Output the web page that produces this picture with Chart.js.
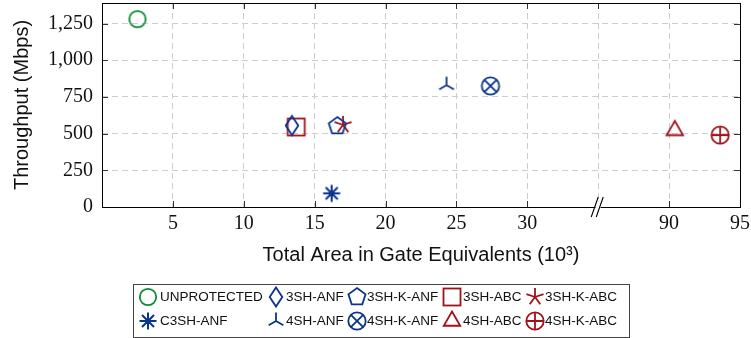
<!DOCTYPE html>
<html>
<head>
<meta charset="utf-8">
<script src="https://cdn.jsdelivr.net/npm/chart.js@4.4.1/dist/chart.umd.min.js"></script>
<style>
  html, body { margin: 0; padding: 0; background: #fff; }
  #wrap { position: relative; width: 751px; height: 338px; }
  #legend {
    position: absolute; left: 133px; top: 284px; width: 497px; height: 54px;
    border: 1px solid #444; box-sizing: border-box;
  }
  .lg-mark { position: absolute; }
  .lg-text {
    position: absolute; font-family: "Liberation Sans", Arial, sans-serif;
    font-size: 13.5px; line-height: 16px; color: #111; white-space: nowrap;
  }
</style>
</head>
<body>
<div id="wrap">
  <canvas id="chart" width="751" height="338"></canvas>
  <div id="legend"></div>
</div>
<script>
// data
const seriesNames = ['UNPROTECTED', '3SH-ANF', '3SH-K-ANF', '3SH-ABC', '3SH-K-ABC',
                     'C3SH-ANF', '4SH-ANF', '4SH-K-ANF', '4SH-ABC', '4SH-K-ABC'];
const areaKGE = [2.5, 13.4, 16.6, 13.7, 17.0, 16.2, 24.3, 27.4, 90.4, 93.6];
const throughputMbps = [1280, 555, 552, 545, 560, 93, 830, 825, 522, 490];
const markerShapes = ['circle', 'diamond', 'pentagon', 'square', 'star',
                      'asterisk', 'tri', 'otimes', 'triangle', 'oplus'];

const GREEN = '#0c8a32', BLUE = '#0a358c', RED = '#a0121a';
const markerColors = [GREEN, BLUE, BLUE, RED, RED, BLUE, BLUE, BLUE, RED, RED];

// broken x axis: 35..85 is cut out
const BREAK_FROM = 35, BREAK_TO = 85;
const toAxis = v => v > BREAK_FROM ? v - (BREAK_TO - BREAK_FROM) : v;
const fromAxis = v => v > BREAK_FROM ? v + (BREAK_TO - BREAK_FROM) : v;

function makeMarker(shape, color) {
  const c = document.createElement('canvas');
  c.width = 24; c.height = 24;
  const g = c.getContext('2d');
  g.strokeStyle = color;
  g.lineWidth = 1.8;
  g.lineJoin = 'miter';
  g.translate(12, 12);
  const poly = (n, r, rot) => {
    g.beginPath();
    for (let k = 0; k < n; k++) {
      const a = rot + k * 2 * Math.PI / n;
      k ? g.lineTo(r * Math.cos(a), r * Math.sin(a)) : g.moveTo(r * Math.cos(a), r * Math.sin(a));
    }
    g.closePath(); g.stroke();
  };
  const spokes = (n, r, rot) => {
    g.beginPath();
    for (let k = 0; k < n; k++) {
      const a = rot + k * 2 * Math.PI / n;
      g.moveTo(0, 0); g.lineTo(r * Math.cos(a), r * Math.sin(a));
    }
    g.stroke();
  };
  const ring = r => { g.beginPath(); g.arc(0, 0, r, 0, 2 * Math.PI); g.stroke(); };
  switch (shape) {
    case 'circle': ring(8.2); break;
    case 'diamond':
      g.beginPath(); g.moveTo(0, -9.5); g.lineTo(6.3, 0); g.lineTo(0, 9.5); g.lineTo(-6.3, 0);
      g.closePath(); g.stroke(); break;
    case 'pentagon': poly(5, 9, -Math.PI / 2); break;
    case 'square': g.strokeRect(-8.5, -8.5, 17, 17); break;
    case 'star': spokes(5, 9, -Math.PI / 2); break;
    case 'asterisk': g.lineWidth = 2; spokes(8, 8.5, -Math.PI / 2); break;
    case 'tri': spokes(3, 8.5, -Math.PI / 2); break;
    case 'triangle': poly(3, 9.5, -Math.PI / 2); break;
    case 'otimes': {
      ring(8.7); const d = 8.7 * Math.SQRT1_2;
      g.beginPath(); g.moveTo(-d, -d); g.lineTo(d, d); g.moveTo(d, -d); g.lineTo(-d, d); g.stroke();
      break;
    }
    case 'oplus':
      ring(8.7);
      g.beginPath(); g.moveTo(-8.7, 0); g.lineTo(8.7, 0); g.moveTo(0, -8.7); g.lineTo(0, 8.7); g.stroke();
      break;
  }
  return c;
}

const datasets = seriesNames.map((name, i) => ({
  label: name,
  data: [{ x: toAxis(areaKGE[i]), y: throughputMbps[i] }],
  pointStyle: makeMarker(markerShapes[i], markerColors[i]),
  pointRadius: 9,
  borderColor: markerColors[i],
  backgroundColor: 'transparent',
  showLine: false,
}));

// frame, inner ticks and the // axis break
const framePlugin = {
  id: 'frame',
  beforeDatasetsDraw(chart) {
    const { ctx, chartArea: a, scales } = chart;
    ctx.save();
    ctx.strokeStyle = '#333';
    ctx.lineWidth = 1;
    ctx.beginPath();
    scales.x.ticks.forEach(t => {
      if (t.value <= 0 || t.value >= 45) return;
      const px = Math.round(scales.x.getPixelForValue(t.value)) + 0.5;
      ctx.moveTo(px, a.bottom); ctx.lineTo(px, a.bottom - 6);
      ctx.moveTo(px, a.top); ctx.lineTo(px, a.top + 6);
    });
    scales.y.ticks.forEach(t => {
      if (t.value <= 0) return;
      const py = Math.round(scales.y.getPixelForValue(t.value)) + 0.5;
      ctx.moveTo(a.left, py); ctx.lineTo(a.left + 6, py);
      ctx.moveTo(a.right, py); ctx.lineTo(a.right - 6, py);
    });
    ctx.stroke();
    ctx.strokeStyle = '#000';
    ctx.strokeRect(Math.round(a.left) + 0.5, Math.round(a.top) + 0.5,
                   Math.round(a.right - a.left), Math.round(a.bottom - a.top));
    // axis break symbol
    const bx = scales.x.getPixelForValue(BREAK_FROM), by = a.bottom;
    ctx.fillStyle = '#fff';
    ctx.beginPath();
    ctx.moveTo(bx - 6, by + 10); ctx.lineTo(bx + 1, by - 10); ctx.lineTo(bx + 6, by - 10); ctx.lineTo(bx - 1, by + 10);
    ctx.closePath(); ctx.fill();
    ctx.strokeStyle = '#000';
    ctx.lineWidth = 1.1;
    ctx.beginPath();
    ctx.moveTo(bx - 7, by + 10); ctx.lineTo(bx, by - 10);
    ctx.moveTo(bx - 2, by + 10); ctx.lineTo(bx + 5, by - 10);
    ctx.stroke();
    ctx.restore();
  }
};

const gridColor = ctx => (ctx.tick && (ctx.tick.value === 0 || ctx.tick.value === 45)) ? 'rgba(0,0,0,0)' : '#cdcdcd';

new Chart(document.getElementById('chart'), {
  type: 'scatter',
  data: { datasets },
  options: {
    responsive: false,
    animation: false,
    devicePixelRatio: 1,
    events: [],
    layout: { autoPadding: false, padding: { top: 3, right: 11, left: 0, bottom: 68 } },
    plugins: { legend: { display: false }, tooltip: { enabled: false } },
    scales: {
      x: {
        type: 'linear', min: 0, max: 45,
        afterFit: s => { s.height = 63; s.paddingLeft = 0; s.paddingRight = 0; },
        ticks: {
          stepSize: 5, autoSkip: false, maxRotation: 0, padding: 5,
          color: '#111', font: { family: '"Liberation Serif", serif', size: 20 },
          callback: v => (v === 0 || v === BREAK_FROM) ? '' : String(fromAxis(v)),
        },
        grid: { color: gridColor, drawTicks: false, lineWidth: 1 },
        border: { display: false, dash: [6, 4] },
        title: {
          display: true, text: 'Total Area in Gate Equivalents (10³)', color: '#111',
          font: { family: '"Liberation Sans", Arial, sans-serif', size: 20 },
          padding: { top: 0, bottom: 3 },
        },
      },
      y: {
        min: 0, max: 1390,
        afterFit: s => { s.width = 102; s.paddingTop = 0; s.paddingBottom = 0; },
        ticks: {
          stepSize: 250, includeBounds: false, padding: 9,
          color: '#111', font: { family: '"Liberation Serif", serif', size: 20 },
          callback: v => v.toLocaleString('en-US'),
        },
        grid: { color: gridColor, drawTicks: false, lineWidth: 1 },
        border: { display: false, dash: [6, 4] },
        title: {
          display: true, text: 'Throughput (Mbps)', color: '#111',
          font: { family: '"Liberation Sans", Arial, sans-serif', size: 20 },
          padding: { top: 10, bottom: 0 },
        },
      },
    },
  },
  plugins: [framePlugin],
});

// legend: 5 columns x 2 rows, like the pgfplots legend
const legendCols = [
  { mark: 148, text: 160 }, { mark: 276, text: 286 }, { mark: 357, text: 367 },
  { mark: 452, text: 463 }, { mark: 535, text: 545 },
];
const legendRows = [297, 321];
const legendEl = document.getElementById('legend');
const LX = 133 + 1, LY = 284 + 1;
seriesNames.forEach((name, i) => {
  const col = legendCols[i % 5], rowY = legendRows[Math.floor(i / 5)];
  const m = makeMarker(markerShapes[i], markerColors[i]);
  m.className = 'lg-mark';
  m.style.left = (col.mark - 12 - LX) + 'px';
  m.style.top = (rowY - 12 - LY) + 'px';
  legendEl.appendChild(m);
  const t = document.createElement('span');
  t.className = 'lg-text';
  t.textContent = name;
  t.style.left = (col.text - LX) + 'px';
  t.style.top = (rowY - 8 - LY) + 'px';
  legendEl.appendChild(t);
});
</script>
</body>
</html>
